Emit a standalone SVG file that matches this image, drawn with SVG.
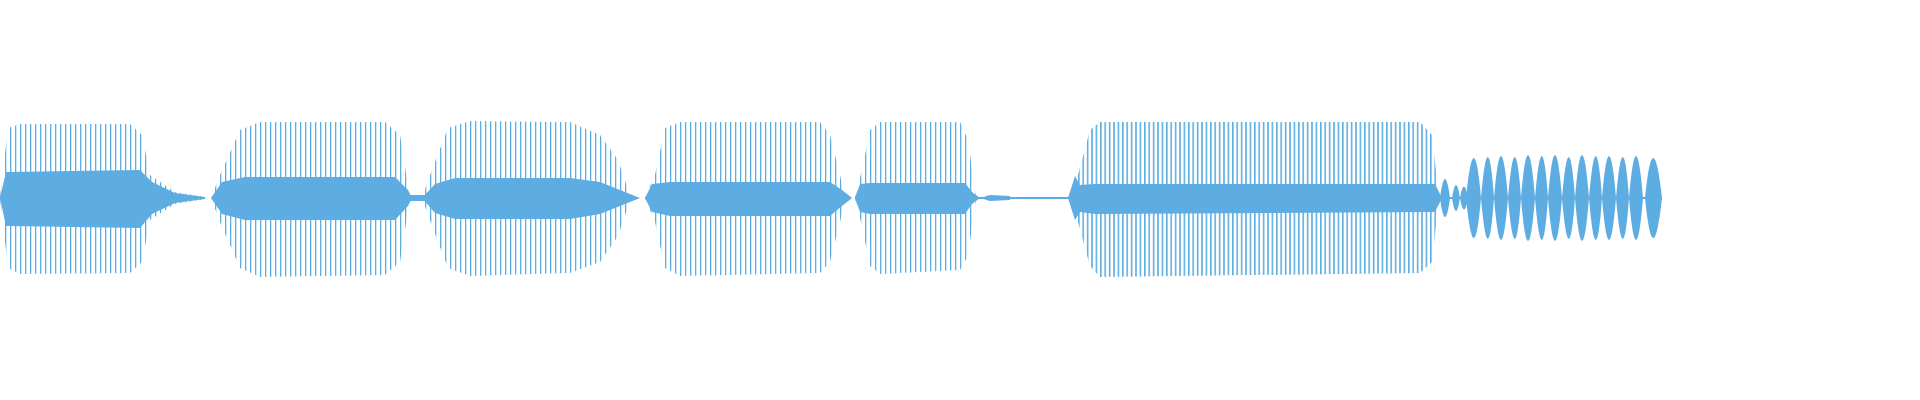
<svg xmlns="http://www.w3.org/2000/svg" width="1920" height="400" viewBox="0 0 1920 400">
<defs>
<pattern id="st" width="5" height="400" patternUnits="userSpaceOnUse"><rect x="0" y="0" width="1.3" height="400" fill="#5DADE2"/></pattern>
<pattern id="st2" width="4.4" height="400" patternUnits="userSpaceOnUse"><rect x="0" y="0" width="1.6" height="400" fill="#5DADE2"/></pattern>
<style>.c{fill:#5DADE2}.s{fill:url(#st)}.s2{fill:url(#st2)}</style>
</defs>
<rect width="1920" height="400" fill="#fff"/>
<g id="wave">
<!-- seg1 -->
<path class="s" d="M0 198 L8 128 L20 124 L130 124 L142 135 L150 175 L175 192 L205 197 L205 199 L175 204 L150 220 L142 262 L130 273 L20 274 L8 268 Z"/>
<path class="c" d="M0 198 L6 172 L140 170 L152 182 L175 193 L205 197 L205 199 L175 203 L152 214 L140 228 L6 226 Z"/>
<!-- seg2 -->
<path class="s" d="M211 198 L220 175 L240 130 L260 122 L385 122 L400 135 L410 198 L400 262 L385 275 L260 277 L240 268 L220 222 Z"/>
<path class="c" d="M211 198 L222 182 L245 177 L395 177 L408 190 L412 198 L408 206 L395 220 L245 220 L222 214 Z"/>
<rect class="c" x="405" y="195" width="20" height="6"/>
<!-- seg3 -->
<path class="s" d="M422 198 L432 170 L448 128 L470 121 L570 122 L600 135 L618 160 L631 198 L618 236 L600 262 L570 273 L470 276 L448 268 L432 226 Z"/>
<path class="c" d="M422 198 L435 184 L455 178 L570 178 L600 182 L625 192 L640 198 L625 204 L600 214 L570 219 L455 219 L435 213 Z"/>
<!-- seg4 -->
<path class="s" d="M645 198 L655 175 L665 128 L680 122 L820 122 L830 135 L840 175 L845 198 L840 222 L830 262 L820 273 L680 276 L665 268 L655 222 Z"/>
<path class="c" d="M645 198 L652 184 L670 182 L830 182 L842 190 L852 198 L842 206 L830 216 L670 216 L652 212 Z"/>
<!-- seg5 -->
<path class="s" d="M855 198 L862 170 L870 130 L880 122 L960 122 L968 140 L976 198 L968 256 L960 270 L880 274 L870 266 L862 226 Z"/>
<path class="c" d="M855 198 L860 184 L870 183 L965 183 L972 192 L980 198 L972 204 L965 214 L870 214 L860 212 Z"/>
<!-- seg6 -->
<rect class="c" x="976" y="197" width="98" height="2"/>
<path class="c" d="M980 198 L990 195 L1010 196 L1010 200 L990 201 Z"/>
<!-- seg7 -->
<path class="s2" d="M1068 198 L1078 175 L1090 130 L1100 122 L1420 122 L1432 135 L1439 198 L1432 262 L1420 273 L1100 277 L1090 266 L1078 222 Z"/>
<path class="c" d="M1068 198 L1075 176 L1080 185 L1095 184 L1435 184 L1442 198 L1435 212 L1095 214 L1080 212 L1075 220 Z"/>
<!-- seg8 -->
<path class="c" d="M1440 198 Q1445 160 1450 198 Q1445 236 1440 198 Z M1452 198 Q1456 172 1460 198 Q1456 224 1452 198 Z M1460 198 Q1464 175 1468 198 Q1464 221 1460 198 Z"/>
<!-- seg9 lobes -->
<g class="c">
<path d="M1466 198 Q1474 118 1481 198 Q1474 278 1466 198 Z"/>
<path d="M1481 198 Q1488 116 1494 198 Q1488 280 1481 198 Z"/>
<path d="M1494 198 Q1501 114 1508 198 Q1501 282 1494 198 Z"/>
<path d="M1508 198 Q1515 116 1521 198 Q1515 280 1508 198 Z"/>
<path d="M1521 198 Q1528 112 1535 198 Q1528 284 1521 198 Z"/>
<path d="M1535 198 Q1542 114 1548 198 Q1542 282 1535 198 Z"/>
<path d="M1548 198 Q1555 112 1562 198 Q1555 284 1548 198 Z"/>
<path d="M1562 198 Q1569 116 1575 198 Q1569 280 1562 198 Z"/>
<path d="M1575 198 Q1582 112 1589 198 Q1582 284 1575 198 Z"/>
<path d="M1589 198 Q1596 114 1602 198 Q1596 282 1589 198 Z"/>
<path d="M1602 198 Q1609 114 1616 198 Q1609 282 1602 198 Z"/>
<path d="M1616 198 Q1623 116 1629 198 Q1623 280 1616 198 Z"/>
<path d="M1629 198 Q1636 114 1643 198 Q1636 282 1629 198 Z"/>
<path d="M1645 198 Q1653 118 1662 198 Q1653 278 1645 198 Z"/>
</g>
<rect class="c" x="1439" y="197" width="223" height="2"/>
</g>
</svg>
